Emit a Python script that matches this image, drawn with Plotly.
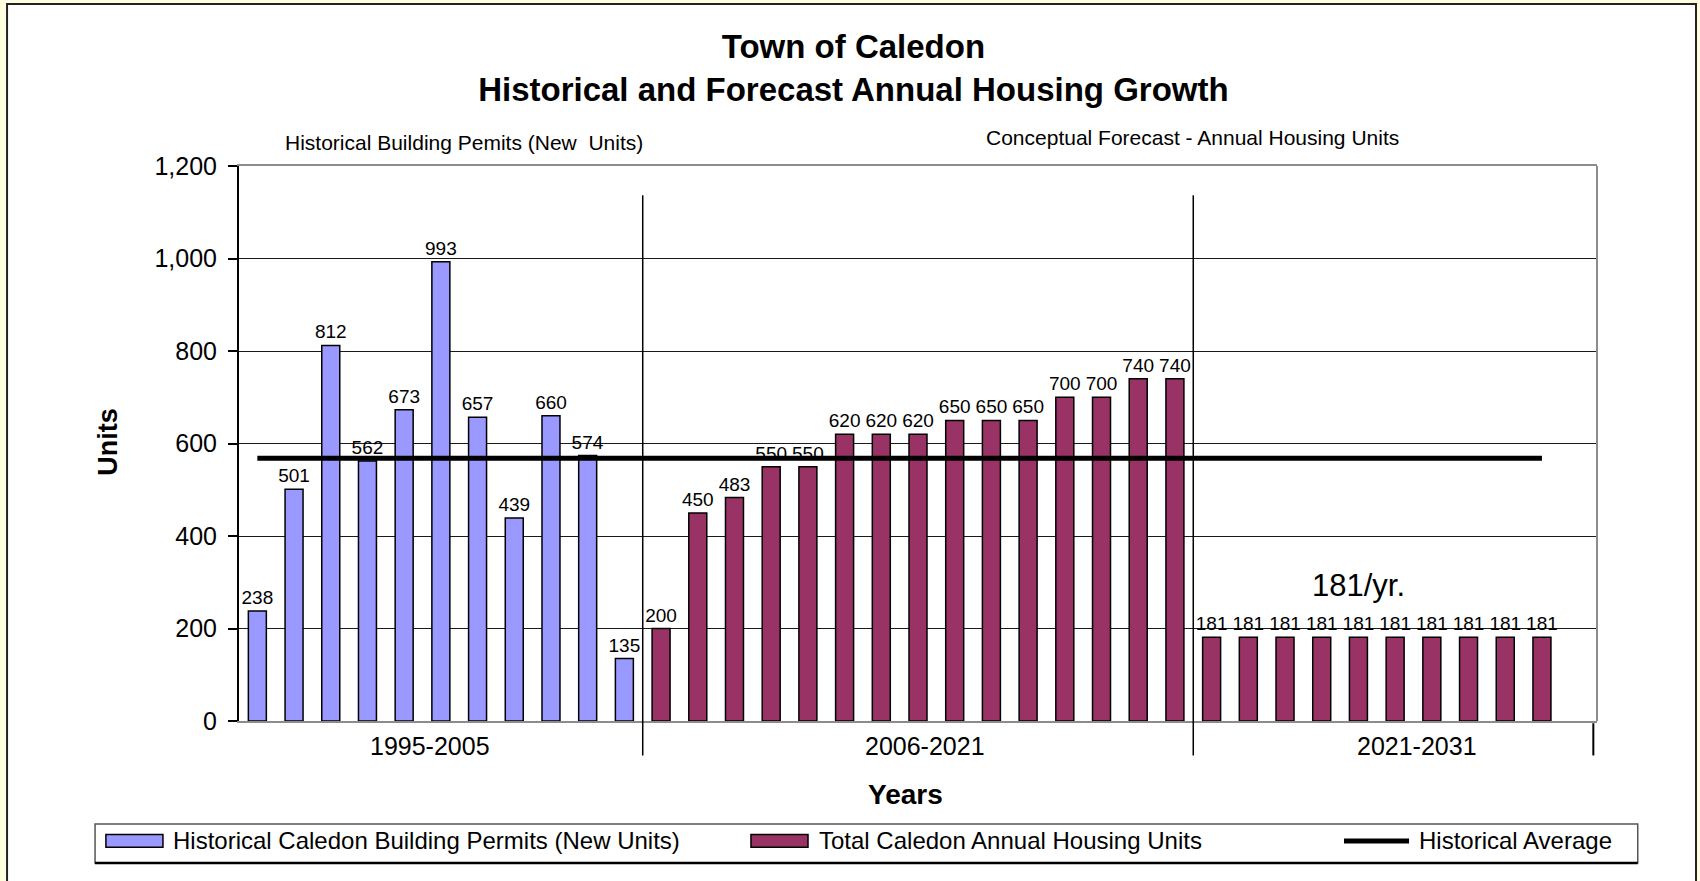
import plotly.graph_objects as go

# ---------------- data ----------------
hist_values = [238, 501, 812, 562, 673, 993, 657, 439, 660, 574, 135]
forecast_values = [200, 450, 483, 550, 550, 620, 620, 620, 650, 650, 650,
                   700, 700, 740, 740]
longterm_values = [181, 181, 181, 181, 181, 181, 181, 181, 181, 181]
historical_average = 568

group_labels = ["1995-2005", "2006-2021", "2021-2031"]
group_label_x = [4.7, 18.2, 31.6]
separator_x = [10.5, 25.5]
series_names = ["Historical Caledon Building Permits (New Units)",
                "Total Caledon Annual Housing Units",
                "Historical Average"]
y_ticks = [0, 200, 400, 600, 800, 1000, 1200]

# ---------------- styling ----------------
FONT = "Liberation Sans, Arial, sans-serif"
BLUE = "#9999FF"
PURPLE = "#993366"

n_hist = len(hist_values)
n_fore = len(forecast_values) + len(longterm_values)
x_hist = list(range(n_hist))
x_fore = list(range(n_hist, n_hist + n_fore))
fore_all = forecast_values + longterm_values
n_slots = n_hist + n_fore + 1  # one empty slot at the end

fig = go.Figure()

label_font = dict(family=FONT, size=19, color="black")
fig.add_trace(go.Bar(
    x=x_hist, y=hist_values, name=series_names[0],
    marker=dict(color=BLUE, line=dict(color="black", width=1.5)),
    text=hist_values, textposition="outside", cliponaxis=False,
    constraintext="none", textfont=label_font,
    showlegend=False,
))
fig.add_trace(go.Bar(
    x=x_fore, y=fore_all, name=series_names[1],
    marker=dict(color=PURPLE, line=dict(color="black", width=1.5)),
    text=fore_all, textposition="outside", cliponaxis=False,
    constraintext="none", textfont=label_font,
    showlegend=False,
))
avg_x = [x_hist[0], x_fore[-1]]
fig.add_trace(go.Scatter(
    x=avg_x, y=[historical_average] * len(avg_x), mode="lines",
    name=series_names[2], line=dict(color="black", width=5),
    showlegend=False,
))

shapes = []
# outer white frame
shapes.append(dict(type="rect", xref="paper", yref="paper",
                   x0=-0.1708, x1=1.0729, y0=-0.32, y1=1.2919,
                   fillcolor="white", line=dict(color="#222222", width=2),
                   layer="below"))
# right plot border
shapes.append(dict(type="line", xref="paper", yref="paper",
                   x0=1, x1=1, y0=0, y1=1,
                   line=dict(color="#8c8c8c", width=2)))
# group separators
for sx in separator_x:
    shapes.append(dict(type="line", xref="x", yref="paper",
                       x0=sx, x1=sx, y0=-0.062, y1=0.9475,
                       line=dict(color="black", width=1.5)))
shapes.append(dict(type="line", xref="x", yref="paper",
                   x0=n_slots - 0.6, x1=n_slots - 0.6, y0=-0.062, y1=-0.004,
                   line=dict(color="black", width=2)))
# legend box
shapes.append(dict(type="rect", xref="paper", yref="paper",
                   x0=-0.106, x1=1.030, y0=-0.2559, y1=-0.1856,
                   fillcolor="white", line=dict(color="#555555", width=1.5)))
shapes.append(dict(type="line", xref="paper", yref="paper",
                   x0=-0.106, x1=1.030, y0=-0.2559, y1=-0.2559,
                   line=dict(color="black", width=2.5)))
# legend swatches
for x0, x1, col in [(-0.0980, -0.0560, BLUE), (0.3770, 0.4190, PURPLE)]:
    shapes.append(dict(type="rect", xref="paper", yref="paper",
                       x0=x0, x1=x1, y0=-0.2275, y1=-0.2045,
                       fillcolor=col, line=dict(color="black", width=1.5)))
shapes.append(dict(type="line", xref="paper", yref="paper",
                   x0=0.8137, x1=0.8616, y0=-0.2162, y1=-0.2162,
                   line=dict(color="black", width=5)))

annotations = []
for lab, gx in zip(group_labels, group_label_x):
    annotations.append(dict(x=gx, y=-0.045, xref="x", yref="paper",
                            text=lab, showarrow=False,
                            xanchor="center", yanchor="middle",
                            font=dict(family=FONT, size=25, color="black")))
annotations += [
    dict(x=0.491, y=-0.133, xref="paper", yref="paper", text="<b>Years</b>",
         showarrow=False, xanchor="center", yanchor="middle",
         font=dict(family=FONT, size=28, color="black")),
    dict(x=-0.0965, y=0.503, xref="paper", yref="paper", text="<b>Units</b>",
         textangle=-90, showarrow=False, xanchor="center", yanchor="middle",
         font=dict(family=FONT, size=27, color="black")),
    dict(x=0.1657, y=1.043, xref="paper", yref="paper",
         text="Historical Building Pemits (New  Units)", showarrow=False,
         xanchor="center", yanchor="middle",
         font=dict(family=FONT, size=21, color="black")),
    dict(x=0.7025, y=1.051, xref="paper", yref="paper",
         text="Conceptual Forecast - Annual Housing Units", showarrow=False,
         xanchor="center", yanchor="middle",
         font=dict(family=FONT, size=21, color="black")),
    dict(x=30, y=294, xref="x", yref="y", text="181/yr.", showarrow=False,
         xanchor="center", yanchor="middle",
         font=dict(family=FONT, size=31, color="black")),
]
legend_text_x = [-0.0501, 0.4256, 0.8675]
for lab, lx in zip(series_names, legend_text_x):
    annotations.append(dict(x=lx, y=-0.2162, xref="paper", yref="paper",
                            text=lab, showarrow=False, xanchor="left",
                            yanchor="middle",
                            font=dict(family=FONT, size=24, color="black")))

fig.update_layout(
    width=1700, height=881,
    margin=dict(l=239, r=103, t=166, b=160),
    paper_bgcolor="#FFFFE0",
    plot_bgcolor="white",
    bargap=0.51,
    barmode="overlay",
    title=dict(text="<b>Town of Caledon<br>Historical and Forecast Annual Housing Growth</b>",
               x=0.502, xref="container", xanchor="center",
               y=0.934, yref="container", yanchor="top",
               font=dict(family=FONT, size=33, color="black")),
    xaxis=dict(range=[-0.5, n_slots - 0.5], showticklabels=False,
               showgrid=False, zeroline=False, ticks="",
               showline=True, linecolor="#8c8c8c", linewidth=2, mirror=True),
    yaxis=dict(range=[0, 1200], tickvals=y_ticks, tickformat=",d",
               showgrid=True, gridcolor="#1a1a1a", gridwidth=1,
               zeroline=False, showline=True, linecolor="black", linewidth=2,
               ticks="outside", ticklen=9, tickcolor="black", tickwidth=1.5,
               ticklabelstandoff=6,
               tickfont=dict(family=FONT, size=25, color="black")),
    shapes=shapes,
    annotations=annotations,
    font=dict(family=FONT, color="black"),
)

fig.write_html("out.html")
